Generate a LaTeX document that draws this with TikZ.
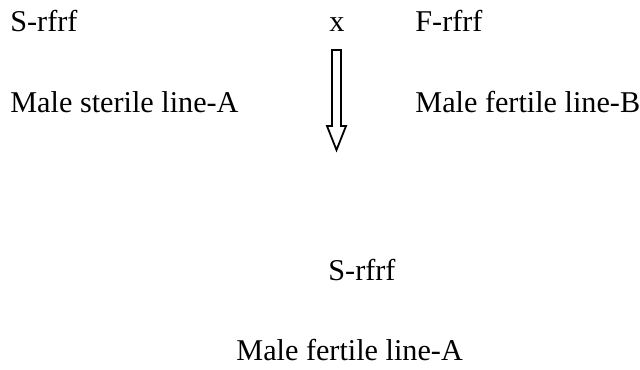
\documentclass[tikz,border=0pt]{standalone}
\usepackage{fontspec}
\setmainfont{Liberation Serif}
\begin{document}
\begin{tikzpicture}[x=0.5pt,y=-0.5pt,
  lbl/.style={anchor=base west,inner sep=0pt,font=\fontsize{15.1}{18}\selectfont},
  arrowshape/.style={draw=black,line width=0.9pt,fill=white,line join=miter}]
\useasboundingbox (0,0) rectangle (640,369);
\node[lbl] (sa) at (10,32) {S-rfrf};
\node[lbl,anchor=base] (x) at (337,32) {x};
\node[lbl] (fb) at (415,32) {F-rfrf};
\node[lbl] (msa) at (10,112) {Male sterile line-A};
\node[lbl] (mfb) at (415,112) {Male fertile line-B};
\node[lbl] (sb) at (328,280) {S-rfrf};
\node[lbl] (mfa) at (236,360) {Male fertile line-A};
\draw[arrowshape] (332,50) -- (341,50) -- (341,126) -- (346,126) -- (336.5,150) -- (327,126) -- (332,126) -- cycle;
\end{tikzpicture}
\end{document}
